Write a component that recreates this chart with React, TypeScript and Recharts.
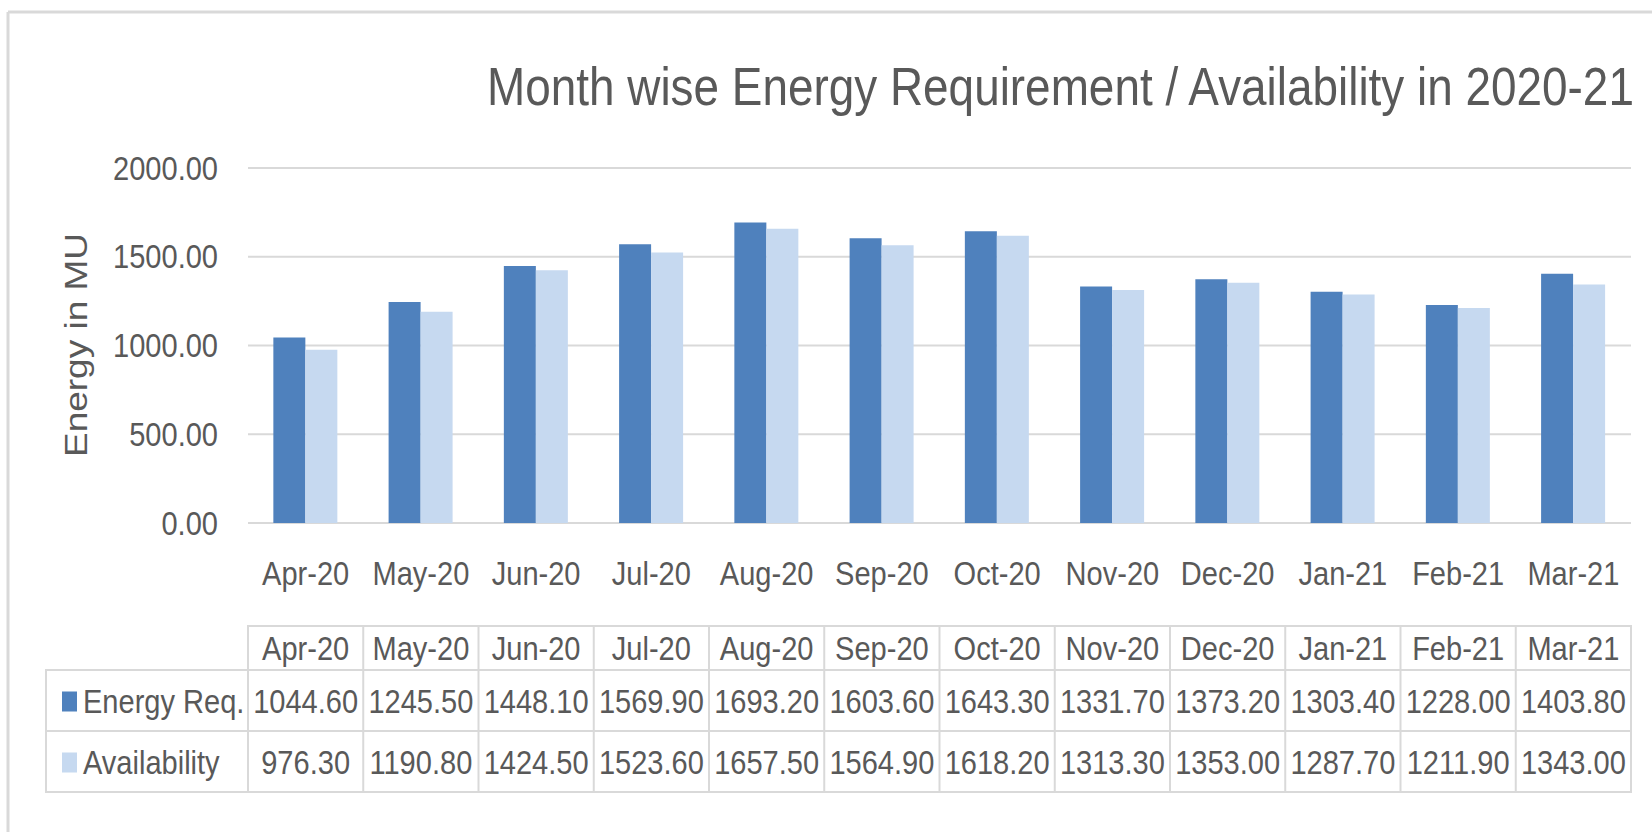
import { BarChart, Bar, XAxis, YAxis, CartesianGrid } from 'recharts';

// Month wise energy requirement vs availability, 2020-21 (MU)
const months = ['Apr-20', 'May-20', 'Jun-20', 'Jul-20', 'Aug-20', 'Sep-20', 'Oct-20', 'Nov-20', 'Dec-20', 'Jan-21', 'Feb-21', 'Mar-21'];
const energyReq = [1044.6, 1245.5, 1448.1, 1569.9, 1693.2, 1603.6, 1643.3, 1331.7, 1373.2, 1303.4, 1228.0, 1403.8];
const availability = [976.3, 1190.8, 1424.5, 1523.6, 1657.5, 1564.9, 1618.2, 1313.3, 1353.0, 1287.7, 1211.9, 1343.0];
const yTicks = [0, 500, 1000, 1500, 2000];

const seriesRows = [
  { name: 'Energy Req.', values: energyReq, color: '#4f81bd' },
  { name: 'Availability', values: availability, color: '#c6d9f0' },
];

const W = 1652;
const H = 832;
const PLOT_LEFT = 248;
const PLOT_RIGHT = 1631;
const PLOT_TOP = 168;
const PLOT_BOTTOM = 523;

const FONT = "'Liberation Sans', Arial, sans-serif";
const TEXT = '#595959';
const GRID = '#d9d9d9';
const FS = 33; // body text size
const SX = 0.88; // horizontal squeeze, the source looks like a narrow font

const chartData = months.map((m, i) => ({
  month: m,
  energyReq: energyReq[i],
  availability: availability[i],
}));

// text squeezed horizontally around its anchor point
const NText = ({ x, y, anchor = 'start', size = FS, sx = SX, dy, children }: any) => (
  <text
    transform={`translate(${x} ${y}) scale(${sx} 1)`}
    textAnchor={anchor}
    dy={dy}
    fontFamily={FONT}
    fontSize={size}
    fill={TEXT}
  >
    {children}
  </text>
);

const XTick = (props: any) => (
  <NText x={props.x} y={props.y} anchor="middle" dy="0.71em">{props.payload.value}</NText>
);

const YTick = (props: any) => (
  <NText x={props.x} y={props.y} anchor="end" dy="0.355em">{Number(props.payload.value).toFixed(2)}</NText>
);

// data table under the chart, columns line up with the categories
const DataTable = () => {
  const colW = (PLOT_RIGHT - PLOT_LEFT) / months.length;
  const headTop = 626;
  const rowTops = [670, 731];
  const rowBottom = 792;
  const tableLeft = 46;
  return (
    <g>
      <rect x={PLOT_LEFT} y={headTop} width={PLOT_RIGHT - PLOT_LEFT} height={rowTops[0] - headTop} fill="none" stroke={GRID} strokeWidth={2} />
      <rect x={tableLeft} y={rowTops[0]} width={PLOT_RIGHT - tableLeft} height={rowBottom - rowTops[0]} fill="none" stroke={GRID} strokeWidth={2} />
      <line x1={tableLeft} x2={PLOT_RIGHT} y1={rowTops[1]} y2={rowTops[1]} stroke={GRID} strokeWidth={2} />
      {months.map((_, i) => (
        <line key={i} x1={PLOT_LEFT + i * colW} x2={PLOT_LEFT + i * colW} y1={headTop} y2={rowBottom} stroke={GRID} strokeWidth={2} />
      ))}
      {months.map((m, i) => (
        <NText key={m} x={PLOT_LEFT + (i + 0.5) * colW} y={648} anchor="middle" dy="0.355em">{m}</NText>
      ))}
      {seriesRows.map((s, r) => {
        const cy = (rowTops[r] + (r === 0 ? rowTops[1] : rowBottom)) / 2 + 1;
        return (
          <g key={s.name}>
            <rect x={62} y={cy - 10} width={15} height={20} fill={s.color} />
            <NText x={83} y={cy} dy="0.355em">{s.name}</NText>
            {s.values.map((v, i) => (
              <NText key={i} x={PLOT_LEFT + (i + 0.5) * colW} y={cy} anchor="middle" dy="0.355em">{v.toFixed(2)}</NText>
            ))}
          </g>
        );
      })}
    </g>
  );
};

export default function App() {
  return (
    <div style={{ position: 'absolute', left: 0, top: 0, width: W, height: H, background: '#fff' }}>
      <BarChart
        width={W}
        height={H}
        data={chartData}
        margin={{ top: PLOT_TOP, right: W - PLOT_RIGHT, bottom: H - PLOT_BOTTOM - 60, left: 0 }}
        barCategoryGap="22%"
        barGap={0}
      >
        <CartesianGrid vertical={false} stroke={GRID} strokeWidth={2} />
        <XAxis
          dataKey="month"
          height={60}
          axisLine={false}
          tickLine={false}
          tickSize={0}
          tickMargin={39}
          interval={0}
          tick={XTick}
        />
        <YAxis
          width={PLOT_LEFT}
          domain={[0, 2000]}
          ticks={yTicks}
          axisLine={false}
          tickLine={false}
          tickSize={0}
          tickMargin={30}
          tick={YTick}
        />
        <Bar dataKey="energyReq" name="Energy Req." fill="#4f81bd" isAnimationActive={false} />
        <Bar dataKey="availability" name="Availability" fill="#c6d9f0" isAnimationActive={false} />
      </BarChart>

      <svg width={W} height={H} style={{ position: 'absolute', left: 0, top: 0, pointerEvents: 'none' }}>
        {/* chart frame (cropped on right / bottom) */}
        <line x1={8} x2={8} y1={12} y2={H} stroke={GRID} strokeWidth={3} />
        <line x1={8} x2={W} y1={12} y2={12} stroke={GRID} strokeWidth={3} />
        <NText x={487} y={105} size={53} sx={0.866}>
          Month wise Energy Requirement / Availability in 2020-21
        </NText>
        <text
          transform="translate(87 345) rotate(-90) scale(1 0.85)"
          textAnchor="middle"
          fontFamily={FONT}
          fontSize={37}
          fill={TEXT}
        >
          Energy in MU
        </text>
        <DataTable />
      </svg>
    </div>
  );
}
